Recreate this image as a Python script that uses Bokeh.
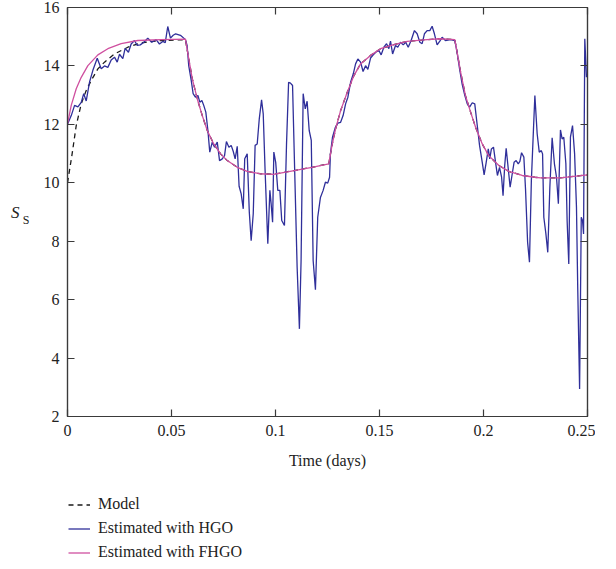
from bokeh.plotting import figure
from bokeh.layouts import column
from bokeh.models import (ColumnDataSource, Range1d, LinearAxis, FixedTicker,
                          Legend, LegendItem, CustomJSTickFormatter)
from bokeh.embed import file_html
from bokeh.resources import INLINE

# ---------------- data ----------------
x_ticks = [0, 0.05, 0.1, 0.15, 0.2, 0.25]
x_tick_labels = {0: "0", 0.05: "0.05", 0.1: "0.1", 0.15: "0.15", 0.2: "0.2", 0.25: "0.25"}
y_ticks = [2, 4, 6, 8, 10, 12, 14, 16]

hgo_t = [0.0, 0.0018, 0.0034, 0.005, 0.0066, 0.0078, 0.009, 0.0106, 0.0122, 0.0143,
         0.0162, 0.0178, 0.0194, 0.021, 0.0226, 0.0239, 0.025, 0.0266, 0.0277, 0.0293,
         0.0306, 0.0322, 0.0335, 0.035, 0.0367, 0.0386, 0.0405, 0.0426, 0.0442, 0.0458,
         0.047, 0.0482, 0.0495, 0.0508, 0.052, 0.0543, 0.0567, 0.0575, 0.0583, 0.0595,
         0.0604, 0.0615, 0.0627, 0.0636, 0.0646, 0.0655, 0.0665, 0.0675, 0.0684, 0.0696,
         0.0707, 0.072, 0.0731, 0.0744, 0.0755, 0.0764, 0.0776, 0.0787, 0.0797, 0.0806,
         0.0816, 0.0825, 0.0835, 0.0845, 0.0852, 0.0864, 0.0874, 0.0883, 0.0893, 0.0902,
         0.0912, 0.0922, 0.0933, 0.0941, 0.095, 0.0963, 0.0973, 0.0979, 0.0986, 0.0992,
         0.1001, 0.1011, 0.1021, 0.103, 0.1043, 0.1053, 0.1063, 0.1072, 0.1082, 0.1091,
         0.1104, 0.1115, 0.1123, 0.1133, 0.1143, 0.1152, 0.1162, 0.1172, 0.1181, 0.1192,
         0.1203, 0.1216, 0.1229, 0.124, 0.1251, 0.126, 0.1264, 0.1274, 0.1288, 0.13,
         0.1313, 0.1325, 0.1337, 0.1348, 0.1361, 0.1374, 0.1385, 0.1396, 0.1409, 0.1421,
         0.1433, 0.1444, 0.1457, 0.147, 0.1482, 0.1497, 0.1508, 0.1521, 0.1534, 0.1545,
         0.1553, 0.1563, 0.1577, 0.1588, 0.1601, 0.1614, 0.1626, 0.1638, 0.1652, 0.1668,
         0.1681, 0.1694, 0.1705, 0.1716, 0.1729, 0.1742, 0.1753, 0.1764, 0.1777, 0.179,
         0.1801, 0.1817, 0.1841, 0.1862, 0.1873, 0.1885, 0.1897, 0.191, 0.1922, 0.1933,
         0.1946, 0.1958, 0.197, 0.1981, 0.1994, 0.2003, 0.2013, 0.2023, 0.203, 0.2038,
         0.2048, 0.2058, 0.2067, 0.2077, 0.2087, 0.2094, 0.2102, 0.2109, 0.2119, 0.2128,
         0.2138, 0.2147, 0.2157, 0.2167, 0.2175, 0.2183, 0.2194, 0.2202, 0.2212, 0.2221,
         0.223, 0.224, 0.2247, 0.2258, 0.2268, 0.2278, 0.2284, 0.229, 0.23, 0.2309,
         0.2319, 0.233, 0.2341, 0.2351, 0.236, 0.237, 0.2378, 0.2386, 0.2396, 0.2402,
         0.241, 0.2418, 0.2428, 0.2438, 0.2447, 0.2453, 0.2462, 0.247, 0.2476, 0.2481,
         0.2487, 0.2495]
hgo_v = [12.0, 12.3, 12.65, 12.6, 12.75, 13.05, 12.8, 13.45, 13.85, 14.26,
         13.9, 14.0, 13.95, 14.2, 14.3, 14.13, 14.4, 14.25, 14.6, 14.47,
         14.75, 14.87, 14.7, 14.72, 14.81, 14.95, 14.81, 14.9, 14.75, 14.84,
         14.8, 15.35, 14.95, 15.05, 15.1, 15.05, 14.9, 14.7, 14.0, 13.5,
         13.05, 12.93, 12.99, 12.76, 12.82, 12.65, 12.42, 11.79, 11.05, 11.39,
         11.22, 11.39, 10.76, 10.82, 10.93, 11.41, 11.22, 11.28, 11.07, 10.82,
         11.25, 9.88, 9.62, 9.11, 10.82, 10.99, 9.0, 8.02, 8.94, 11.28,
         11.33, 12.19, 12.84, 12.36, 10.42, 7.91, 9.74, 9.28, 8.65, 11.05,
         10.7, 9.74, 9.74, 8.71, 8.54, 11.33, 13.44, 13.41, 13.33, 10.76,
         7.11, 5.0, 7.34, 13.05, 12.53, 12.79, 11.79, 11.45, 7.34, 6.34,
         8.82, 9.5, 9.74, 10.02, 9.99, 10.19, 10.99, 11.56, 11.9, 12.04,
         12.07, 12.3, 12.7, 12.93, 13.44, 13.73, 14.07, 14.24, 14.13, 13.81,
         14.01, 13.88, 14.27, 14.38, 14.47, 14.53, 14.38, 14.64, 14.76, 14.59,
         14.85, 14.41, 14.7, 14.64, 14.81, 14.72, 14.81, 14.64, 14.87, 15.21,
         15.1, 14.81, 14.76, 15.1, 15.21, 15.21, 15.36, 15.1, 14.72, 14.85,
         14.98, 14.87, 14.9, 14.87, 14.47, 13.9, 13.39, 12.99, 12.7, 12.59,
         12.74, 12.7, 11.96, 11.28, 10.7, 10.27, 10.7, 11.16, 10.82, 11.16,
         11.22, 10.7, 10.25, 10.53, 10.19, 9.56, 10.59, 11.18, 10.48, 9.85,
         10.3, 10.7, 10.76, 10.65, 10.73, 11.03, 10.88, 9.79, 7.97, 7.28,
         10.05, 11.79, 12.99, 11.68, 11.05, 11.1, 10.99, 8.82, 8.25, 7.62,
         9.85, 11.54, 10.65, 10.19, 9.28, 11.81, 11.5, 11.56, 10.65, 8.71,
         7.22, 11.56, 11.96, 10.99, 9.16, 6.42, 2.94, 8.82, 8.71, 8.25,
         14.93, 13.61]

# first rise (differs between model and FHGO)
model_head_t = [0.0, 0.0021, 0.0042, 0.0066, 0.009, 0.0114, 0.0146, 0.0178, 0.0226,
                0.029, 0.0354, 0.045, 0.0567]
model_head_v = [10.0, 10.93, 11.96, 12.7, 13.16, 13.5, 13.9, 14.13, 14.41,
                14.64, 14.79, 14.87, 14.9]
fhgo_head_t = [0.0, 0.0018, 0.0042, 0.0066, 0.0098, 0.0146, 0.0194, 0.0258, 0.0338,
               0.045, 0.0567]
fhgo_head_v = [12.02, 12.65, 13.22, 13.61, 14.01, 14.38, 14.59, 14.76, 14.87,
               14.9, 14.92]
# remainder (model and FHGO coincide)
tail_t = [0.0583, 0.06, 0.0624, 0.0648, 0.0672, 0.0703, 0.0736, 0.0768, 0.0816,
          0.0864, 0.0925, 0.099, 0.109, 0.1175, 0.1256, 0.1272, 0.1289, 0.1313,
          0.1345, 0.1377, 0.1409, 0.1457, 0.1505, 0.1569, 0.1633, 0.1713, 0.179,
          0.1862, 0.1873, 0.189, 0.1913, 0.1938, 0.1962, 0.1994, 0.2025, 0.2074,
          0.2122, 0.2186, 0.2247, 0.2274, 0.237, 0.25]
tail_v = [14.24, 13.56, 12.87, 12.3, 11.79, 11.33, 10.99, 10.76, 10.53,
          10.39, 10.31, 10.29, 10.42, 10.53, 10.65, 11.3, 11.85, 12.47,
          13.1, 13.67, 14.07, 14.36, 14.59, 14.73, 14.84, 14.89, 14.93,
          14.9, 14.47, 13.79, 12.99, 12.42, 11.9, 11.33, 10.93, 10.59,
          10.39, 10.25, 10.19, 10.17, 10.17, 10.27]

series_names = ["Model", "Estimated with HGO", "Estimated with FHGO"]
y_label_main = "S"
y_label_sub = "S"
x_label = "Time (days)"

# ---------------- styling ----------------
FONT = "Liberation Serif"
FS = "16px"
AXIS_COLOR = "#3a3a3a"
TEXT_COLOR = "#222222"
C_MODEL = "#1a1a1a"
C_HGO = "#2f2f9a"
C_FHGO = "#cf4f9f"
LW = 1.3
DASH = "5 4"

model_src = ColumnDataSource(dict(t=model_head_t + tail_t, v=model_head_v + tail_v))
fhgo_src = ColumnDataSource(dict(t=fhgo_head_t + tail_t, v=fhgo_head_v + tail_v))
hgo_src = ColumnDataSource(dict(t=hgo_t, v=hgo_v))

p = figure(frame_width=520, frame_height=409, output_backend="svg",
           toolbar_location=None, x_range=Range1d(0, 0.25), y_range=Range1d(2, 16),
           min_border_left=67, min_border_top=7, min_border_right=8,
           min_border_bottom=0, background_fill_color="white",
           border_fill_color="white")
p.xgrid.visible = False
p.ygrid.visible = False
p.outline_line_color = AXIS_COLOR
p.outline_line_width = 1.2

p.line("t", "v", source=model_src, line_color=C_MODEL, line_width=LW, line_dash=DASH)
p.line("t", "v", source=hgo_src, line_color=C_HGO, line_width=LW)
p.line("t", "v", source=fhgo_src, line_color=C_FHGO, line_width=LW)

blank = CustomJSTickFormatter(code="return ''")


def style_axis(ax):
    ax.axis_line_color = AXIS_COLOR
    ax.axis_line_width = 1.2
    ax.major_tick_line_color = AXIS_COLOR
    ax.major_tick_line_width = 1.2
    ax.major_tick_in = 7
    ax.major_tick_out = 0
    ax.minor_tick_line_color = None
    ax.major_label_text_font = FONT
    ax.major_label_text_font_size = FS
    ax.major_label_text_color = TEXT_COLOR
    ax.axis_label_text_font = FONT
    ax.axis_label_text_font_size = FS
    ax.axis_label_text_font_style = "normal"
    ax.axis_label_text_color = TEXT_COLOR


xa = p.xaxis[0]
xa.ticker = FixedTicker(ticks=x_ticks)
xa.major_label_overrides = x_tick_labels
xa.axis_label = x_label
xa.major_label_standoff = 8
xa.axis_label_standoff = 13
style_axis(xa)

ya = p.yaxis[0]
ya.ticker = FixedTicker(ticks=y_ticks)
ya.major_label_standoff = 8
style_axis(ya)
# subscript part of the y label (closest to the axis), pushed down one line
ya.axis_label = "\n" + y_label_sub
ya.axis_label_orientation = "horizontal"
ya.axis_label_text_font_size = "12px"
ya.axis_label_standoff = 11

# main italic S of the y label, on an extra blank left axis
ya2 = LinearAxis(ticker=FixedTicker(ticks=[]), axis_line_color=None,
                 major_tick_line_color=None, minor_tick_line_color=None,
                 major_tick_in=0, major_tick_out=0, major_label_standoff=0,
                 axis_label=y_label_main, axis_label_standoff=0,
                 axis_label_orientation="horizontal",
                 axis_label_text_font=FONT, axis_label_text_font_size="17px",
                 axis_label_text_font_style="italic",
                 axis_label_text_color=TEXT_COLOR)
p.add_layout(ya2, "left")

top_ax = LinearAxis(ticker=FixedTicker(ticks=x_ticks), formatter=blank)
style_axis(top_ax)
top_ax.major_label_standoff = 0
p.add_layout(top_ax, "above")
right_ax = LinearAxis(ticker=FixedTicker(ticks=y_ticks), formatter=blank)
style_axis(right_ax)
right_ax.major_label_standoff = 0
p.add_layout(right_ax, "right")

# ---------------- legend panel (below the plot) ----------------
# same series, drawn against a range where they fall outside the frame,
# so that only their legend entries are seen
q = figure(frame_width=520, frame_height=72, output_backend="svg",
           toolbar_location=None, x_range=Range1d(0, 1), y_range=Range1d(100, 101),
           x_axis_type=None, y_axis_type=None,
           min_border_left=67, min_border_top=23, min_border_right=8,
           min_border_bottom=0, outline_line_color=None,
           background_fill_color="white", border_fill_color="white")
q.xgrid.visible = False
q.ygrid.visible = False
lm = q.line("t", "v", source=model_src, line_color=C_MODEL, line_width=LW, line_dash=DASH)
lh = q.line("t", "v", source=hgo_src, line_color=C_HGO, line_width=LW)
lf = q.line("t", "v", source=fhgo_src, line_color=C_FHGO, line_width=LW)

legend = Legend(items=[LegendItem(label=series_names[0], renderers=[lm]),
                       LegendItem(label=series_names[1], renderers=[lh]),
                       LegendItem(label=series_names[2], renderers=[lf])],
                location="top_left", orientation="vertical",
                border_line_color=None, background_fill_alpha=0,
                label_text_font=FONT, label_text_font_size=FS,
                label_text_color=TEXT_COLOR,
                glyph_width=22, glyph_height=17, label_height=17,
                label_standoff=8, spacing=6, padding=0, margin=1)
q.add_layout(legend, "center")

layout = column(p, q, spacing=0)
open("out.html", "w").write(file_html(layout, INLINE))
